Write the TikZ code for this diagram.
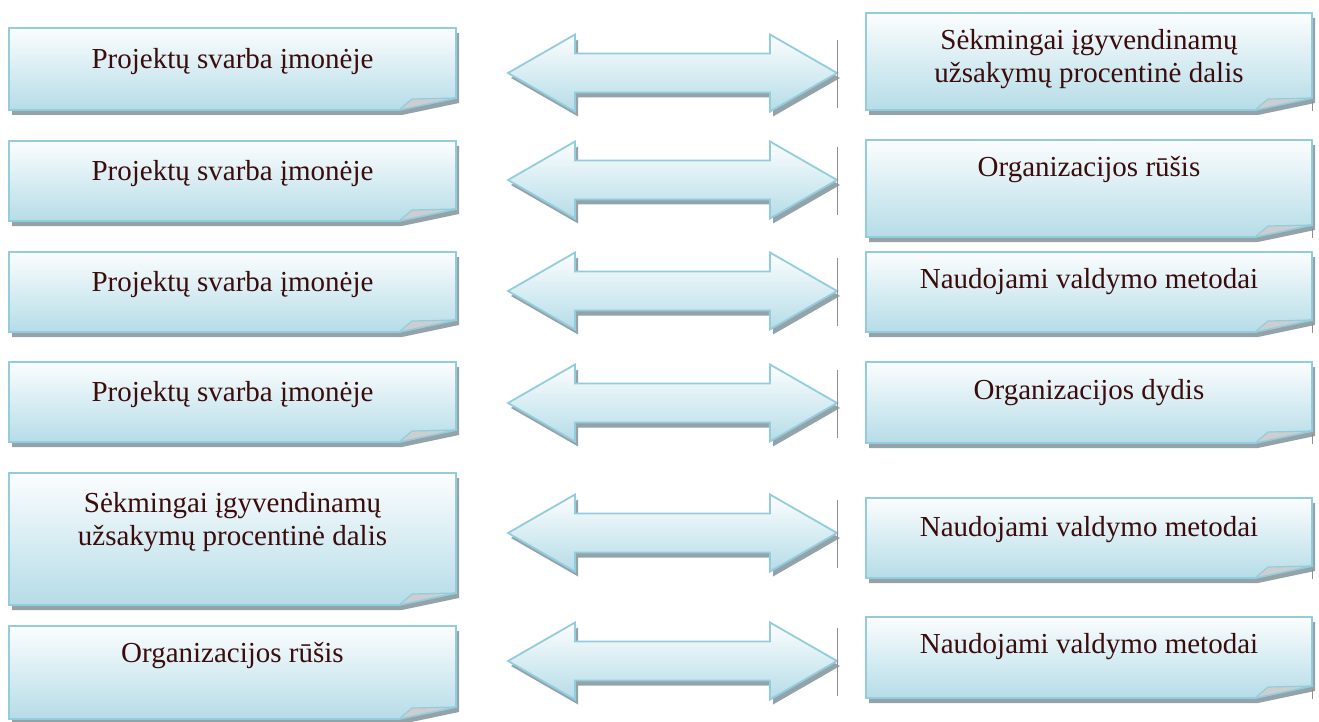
\documentclass[tikz,border=0pt]{standalone}
\usepackage{fontspec}
\setmainfont{Liberation Serif}
\usetikzlibrary{calc}

\definecolor{edgeblue}{RGB}{146,205,221}
\definecolor{filltop}{RGB}{252,253,254}
\definecolor{fillmid}{RGB}{216,237,243}
\definecolor{fillbot}{RGB}{182,220,231}
\definecolor{shadowgrey}{RGB}{148,163,170}
\definecolor{flapgrey}{RGB}{204,206,208}
\definecolor{inkred}{RGB}{58,12,12}
\definecolor{tickgrey}{RGB}{150,140,140}

\tikzset{
  paper/.style={draw=edgeblue, line width=1.8pt, line join=miter,
    top color=filltop, bottom color=fillbot, middle color=fillmid},
  papershadow/.style={fill=shadowgrey},
  flap/.style={fill=flapgrey, draw=edgeblue, line width=1.2pt, line join=round},
  boxtext/.style={text=inkred, font=\fontsize{29}{33}\selectfont,
    align=center, anchor=base, inner sep=0pt},
  tick/.style={draw=tickgrey, line width=0.8pt},
}

% note-paper box with a folded bottom-right corner: #1 left, #2 top, #3 right, #4 bottom
\newcommand\paperbox[4]{%
  \fill[papershadow] (#1+3,#2+5) -- (#3+3,#2+5) -- (#3+3,#4-7) -- (#3-54,#4+5) -- (#1+3,#4+5) -- cycle;
  \shade[paper] (#1,#2) -- (#3,#2) -- (#3,#4-12) -- (#3-57,#4) -- (#1,#4) -- cycle;
  \filldraw[flap] (#3-57,#4) -- (#3-44,#4-11) -- (#3,#4-12) -- cycle;
}

% two-headed block arrow centred on height #1
\newcommand\blockarrow[1]{%
  \fill[papershadow] (511,#1+5) -- (578,#1-33.5) -- (578,#1-14.5) -- (773,#1-14.5) -- (773,#1-33.5)
    -- (840,#1+5) -- (773,#1+43.5) -- (773,#1+24.5) -- (578,#1+24.5) -- (578,#1+43.5) -- cycle;
  \shade[paper] (508,#1) -- (575,#1-38.5) -- (575,#1-19.5) -- (770,#1-19.5) -- (770,#1-38.5)
    -- (837,#1) -- (770,#1+38.5) -- (770,#1+19.5) -- (575,#1+19.5) -- (575,#1+38.5) -- cycle;
  \draw[tick] (837.5,#1-33) -- (837.5,#1+35);
}

\begin{document}
\begin{tikzpicture}[x=1pt,y=-1pt]
  \useasboundingbox (0,0) rectangle (1319,722);
  \fill[white] (0,0) rectangle (1319,722);

  % left column
  \paperbox{9}{28}{456}{110}
  \paperbox{9}{141}{456}{221}
  \paperbox{9}{252}{456}{332}
  \paperbox{9}{362}{456}{442}
  \paperbox{9}{473}{456}{605}
  \paperbox{9}{626}{456}{719}

  % right column
  \paperbox{866}{13}{1312}{110}
  \paperbox{866}{140}{1312}{237}
  \paperbox{866}{252}{1312}{332}
  \paperbox{866}{362}{1312}{443}
  \paperbox{866}{498}{1312}{578}
  \paperbox{866}{617}{1312}{698}
  \foreach \b in {110,237,332,443,578,698}
    \draw[tick] (1312.5,\b-9) -- (1312.5,\b+1);

  % arrows between the columns
  \blockarrow{73}
  \blockarrow{180}
  \blockarrow{291}
  \blockarrow{403}
  \blockarrow{533}
  \blockarrow{661}

  % texts (two-line texts are placed by the baseline of their last line)
  \node[boxtext] (L1) at (232.5,69)  {Projektų svarba įmonėje};
  \node[boxtext] (L2) at (232.5,181) {Projektų svarba įmonėje};
  \node[boxtext] (L3) at (232.5,291) {Projektų svarba įmonėje};
  \node[boxtext] (L4) at (232.5,401) {Projektų svarba įmonėje};
  \node[boxtext] (L5) at (232.5,545) {Sėkmingai įgyvendinamų\\užsakymų procentinė dalis};
  \node[boxtext] (L6) at (232.5,662) {Organizacijos rūšis};

  \node[boxtext] (R1) at (1089,83)  {Sėkmingai įgyvendinamų\\užsakymų procentinė dalis};
  \node[boxtext] (R2) at (1089,177) {Organizacijos rūšis};
  \node[boxtext] (R3) at (1089,288) {Naudojami valdymo metodai};
  \node[boxtext] (R4) at (1089,399) {Organizacijos dydis};
  \node[boxtext] (R5) at (1089,536) {Naudojami valdymo metodai};
  \node[boxtext] (R6) at (1089,653) {Naudojami valdymo metodai};
\end{tikzpicture}
\end{document}
